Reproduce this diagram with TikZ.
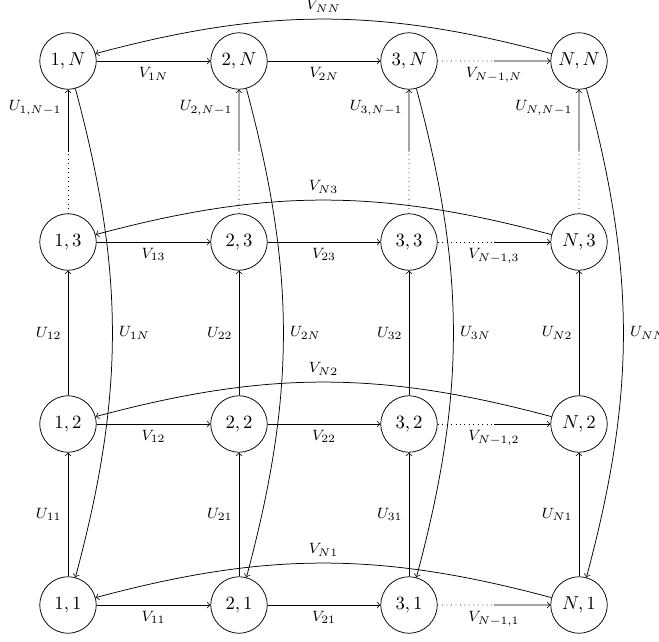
\documentclass[tikz,border=0pt]{standalone}
\usetikzlibrary{calc}
\tikzset{
  st/.style={circle, draw, minimum size=1.06cm, inner sep=0pt},
  lab/.style={font=\footnotesize},
  arr/.style={->},
}
\begin{document}
\begin{tikzpicture}[x=0.0188cm, y=-0.0188cm]
\useasboundingbox (0,0) rectangle (659,642);
% nodes
\foreach \col/\x in {1/68, 2/239, 3/409, N/579}
  \foreach \row/\y in {1/605, 2/424, 3/242, N/61}
    \node[st] (n\col\row) at (\x,\y) {$\col,\row$};
% horizontal edges
\foreach \row in {1,2,3,N} {
  \draw[arr] (n1\row) -- node[lab,below]{$V_{1\row}$} (n2\row);
  \draw[arr] (n2\row) -- node[lab,below]{$V_{2\row}$} (n3\row);
  \coordinate (h\row) at ($(n3\row)!0.5!(nN\row)$);
  \draw[dotted] (n3\row) -- (h\row);
  \draw[arr] (h\row) -- node[lab,below,pos=0]{$V_{N-1,\row}$} (nN\row);
  \draw[arr] (nN\row) to[bend right=15] node[lab,above]{$V_{N\row}$} (n1\row);
}
% vertical edges
\foreach \col in {1,2,3,N} {
  \draw[arr] (n\col1) -- node[lab,left]{$U_{\col1}$} (n\col2);
  \draw[arr] (n\col2) -- node[lab,left]{$U_{\col2}$} (n\col3);
  \coordinate (v\col) at ($(n\col3)!0.5!(n\col N)$);
  \draw[dotted] (n\col3) -- (v\col);
  \draw[arr] (v\col) -- node[lab,left,pos=0.7]{$U_{\col,N-1}$} (n\col N);
  \draw[arr] (n\col N) to[bend left=15] node[lab,right]{$U_{\col N}$} (n\col1);
}
\end{tikzpicture}
\end{document}
